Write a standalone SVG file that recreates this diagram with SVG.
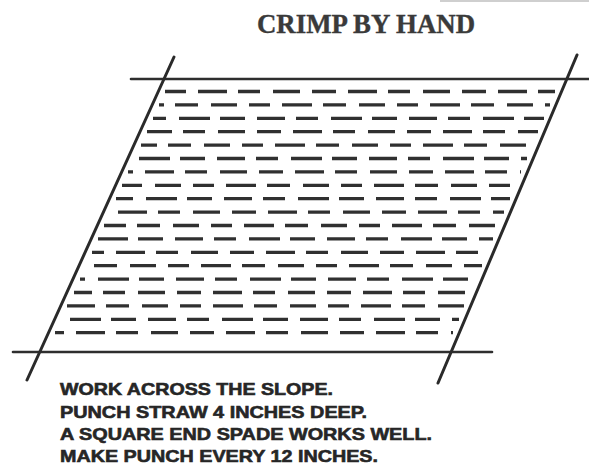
<svg xmlns="http://www.w3.org/2000/svg" width="589" height="468" viewBox="0 0 589 468">
<style>
.bg{fill:#ffffff}
.frame{stroke:#2e2e2e;stroke-width:2.6;fill:none;stroke-linecap:round}
.slant{stroke:#2a2a2a;stroke-width:3;fill:none;stroke-linecap:round}
.d{stroke:#303030;stroke-width:3.3;fill:none}
.pa{stroke-dasharray:24 12 29 11 22 13 27 12}
.pb{stroke-dasharray:30 11 23 13 26 12 21 12}
.pc{stroke-dasharray:22 13 31 10 25 12 28 11}
.title{font-family:"Liberation Serif","Times New Roman",serif;font-weight:bold;font-size:28px;fill:#3a3a3a;stroke:#3a3a3a;stroke-width:0.4}
.note{font-family:"Liberation Sans",Arial,sans-serif;font-weight:bold;font-size:17px;fill:#262626;stroke:#262626;stroke-width:0.6}
</style>
<rect class="bg" x="0" y="0" width="589" height="468"/>
<rect x="440" y="0" width="149" height="2" fill="#cfcfcf"/>
<g id="title"><text class="title" x="257" y="33" textLength="218" lengthAdjust="spacingAndGlyphs">CRIMP BY HAND</text></g>
<g id="frame">
<line class="frame" x1="131" y1="79" x2="589" y2="79"/>
<line class="frame" x1="13" y1="352" x2="492" y2="352"/>
<line class="slant" x1="174" y1="57" x2="27" y2="380"/>
<line class="slant" x1="577" y1="55" x2="438" y2="383"/>
</g>
<g id="straw">
<line class="d pa" x1="165" y1="91.5" x2="555" y2="91.5" stroke-dashoffset="3"/>
<line class="d pb" x1="159" y1="104.9" x2="550" y2="104.9" stroke-dashoffset="25"/>
<line class="d pc" x1="153" y1="118.3" x2="544" y2="118.3" stroke-dashoffset="9"/>
<line class="d pa" x1="147" y1="131.7" x2="538" y2="131.7" stroke-dashoffset="40"/>
<line class="d pb" x1="141" y1="145.1" x2="533" y2="145.1" stroke-dashoffset="14"/>
<line class="d pc" x1="135" y1="158.5" x2="527" y2="158.5" stroke-dashoffset="31"/>
<line class="d pa" x1="128" y1="171.9" x2="521" y2="171.9" stroke-dashoffset="19"/>
<line class="d pb" x1="122" y1="185.3" x2="516" y2="185.3" stroke-dashoffset="44"/>
<line class="d pc" x1="116" y1="198.7" x2="510" y2="198.7" stroke-dashoffset="5"/>
<line class="d pa" x1="110" y1="212.1" x2="504" y2="212.1" stroke-dashoffset="28"/>
<line class="d pb" x1="104" y1="225.5" x2="499" y2="225.5" stroke-dashoffset="8"/>
<line class="d pc" x1="98" y1="238.9" x2="493" y2="238.9" stroke-dashoffset="36"/>
<line class="d pa" x1="92" y1="252.3" x2="487" y2="252.3" stroke-dashoffset="12"/>
<line class="d pb" x1="86" y1="265.7" x2="482" y2="265.7" stroke-dashoffset="33"/>
<line class="d pc" x1="80" y1="279.1" x2="476" y2="279.1" stroke-dashoffset="17"/>
<line class="d pa" x1="74" y1="292.5" x2="470" y2="292.5" stroke-dashoffset="47"/>
<line class="d pb" x1="67" y1="305.9" x2="465" y2="305.9" stroke-dashoffset="2"/>
<line class="d pc" x1="61" y1="319.3" x2="459" y2="319.3" stroke-dashoffset="26"/>
<line class="d pa" x1="55" y1="332.7" x2="453" y2="332.7" stroke-dashoffset="15"/>
</g>
<g id="notes">
<text class="note" x="60" y="395" textLength="273" lengthAdjust="spacingAndGlyphs">WORK ACROSS THE SLOPE.</text>
<text class="note" x="60" y="418" textLength="307" lengthAdjust="spacingAndGlyphs">PUNCH STRAW 4 INCHES DEEP.</text>
<text class="note" x="60" y="440" textLength="372" lengthAdjust="spacingAndGlyphs">A SQUARE END SPADE WORKS WELL.</text>
<text class="note" x="60" y="462" textLength="318" lengthAdjust="spacingAndGlyphs">MAKE PUNCH EVERY 12 INCHES.</text>
</g>
</svg>
